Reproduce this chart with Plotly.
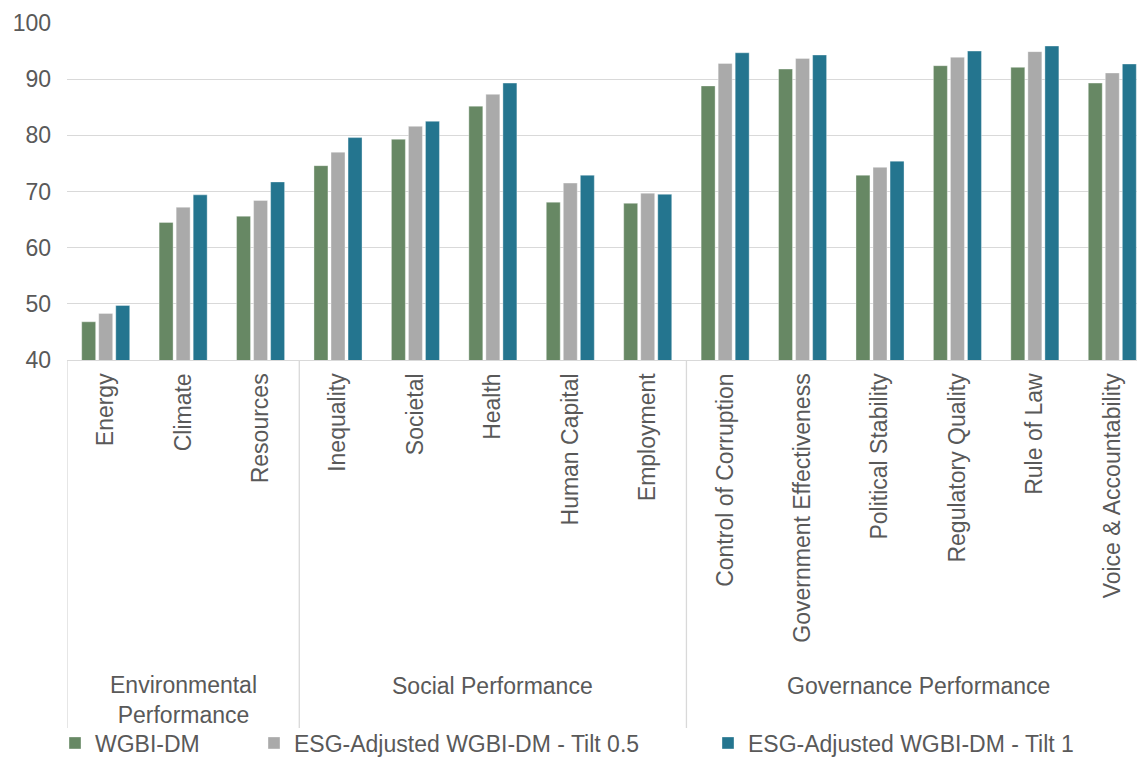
import plotly.graph_objects as go

categories = ["Energy", "Climate", "Resources", "Inequality", "Societal", "Health",
              "Human Capital", "Employment", "Control of Corruption",
              "Government Effectiveness", "Political Stability", "Regulatory Quality",
              "Rule of Law", "Voice & Accountability"]
wgbi_dm = [46.8, 64.5, 65.6, 74.6, 79.3, 85.2, 68.1, 67.9, 88.8, 91.8, 72.9, 92.4, 92.1, 89.3]
tilt_05 = [48.3, 67.2, 68.4, 77.0, 81.6, 87.3, 71.5, 69.7, 92.8, 93.7, 74.3, 93.9, 94.9, 91.1]
tilt_1 = [49.7, 69.4, 71.7, 79.6, 82.5, 89.3, 72.9, 69.5, 94.7, 94.3, 75.4, 95.0, 95.9, 92.7]
series_names = ["WGBI-DM", "ESG-Adjusted WGBI-DM - Tilt 0.5", "ESG-Adjusted WGBI-DM - Tilt 1"]
groups = [("Environmental<br>Performance", 0, 2), ("Social Performance", 3, 7),
          ("Governance Performance", 8, 13)]
y_ticks = [40, 50, 60, 70, 80, 90, 100]

colors = ["#678864", "#aaaaaa", "#24758f"]
font_family = "Liberation Sans, Arial, sans-serif"
text_color = "#595959"
grid_color = "#d9d9d9"
FS = 23

x = list(range(len(categories)))
fig = go.Figure()
legends = ["legend", "legend2", "legend3"]
for vals, name, col, lg in zip([wgbi_dm, tilt_05, tilt_1], series_names, colors, legends):
    fig.add_trace(go.Bar(x=x, y=vals, name=name, marker_color=col,
                         marker_line=dict(width=0.6, color="rgba(255,255,255,0.6)"),
                         legend=lg, showlegend=True))

W, H = 1137, 758
ml, mt, mb = 67, 23, 398
plot_h = H - mt - mb

def py(pix):
    return (H - mb - pix) / plot_h

shapes = []
sep_bottom = py(728)
for sx in [-0.5, 2.5, 7.5]:
    shapes.append(dict(type="line", xref="x", yref="paper", x0=sx, x1=sx,
                       y0=0, y1=sep_bottom, line=dict(color=grid_color, width=1.3)))

annotations = []
for label, a, b in groups:
    two = "<br>" in label
    annotations.append(dict(text=label, xref="x", yref="paper", x=(a + b) / 2,
                            y=py(700 if two else 686), yanchor="middle", xanchor="center",
                            showarrow=False,
                            font=dict(size=FS, color=text_color, family=font_family)))

leg_common = dict(orientation="h", xref="container", yref="container", y=1 - 743 / H,
                  yanchor="middle", xanchor="left", bgcolor="rgba(0,0,0,0)",
                  font=dict(size=FS, color=text_color, family=font_family),
                  itemwidth=30, tracegroupgap=0)
leg_x = [55, 254, 708]

fig.update_layout(
    width=W, height=H,
    margin=dict(l=ml, r=0, t=mt, b=mb),
    paper_bgcolor="white", plot_bgcolor="white",
    barmode="group", bargap=0.34, bargroupgap=0.18,
    showlegend=True,
    font=dict(family=font_family, color=text_color, size=FS),
    xaxis=dict(range=[-0.5, 13.5 - 14 / 77.4], tickmode="array", tickvals=x,
               ticktext=categories, tickangle=-90, showgrid=False,
               showline=True, linecolor=grid_color, linewidth=1.3,
               ticks="", tickfont=dict(size=FS, color=text_color), ticklabelstandoff=3),
    yaxis=dict(range=[40, 100], tickvals=y_ticks, showgrid=True, gridcolor=grid_color,
               gridwidth=1.3, zeroline=False, showline=False, ticks="",
               tickfont=dict(size=FS, color=text_color), ticklabelstandoff=15),
    shapes=shapes, annotations=annotations,
    legend=dict(x=leg_x[0] / W, **leg_common),
    legend2=dict(x=leg_x[1] / W, **leg_common),
    legend3=dict(x=leg_x[2] / W, **leg_common),
)

fig.write_html("out.html")
